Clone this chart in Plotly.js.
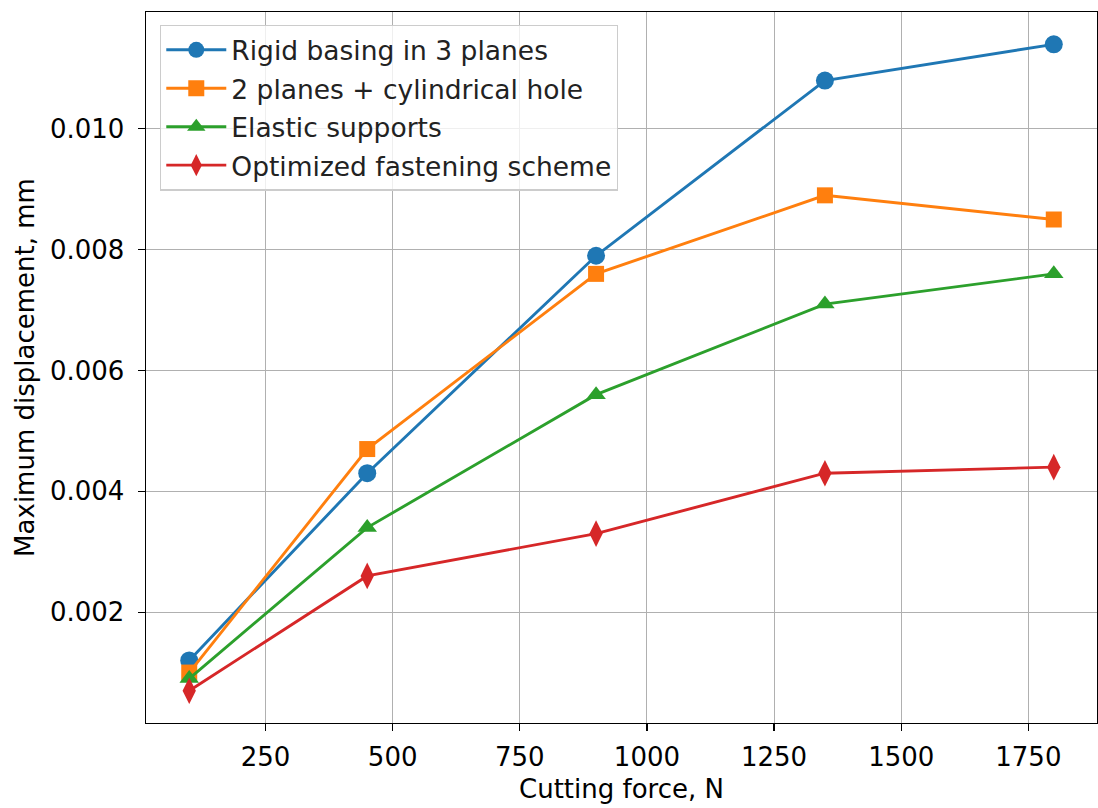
<!DOCTYPE html>
<html>
<head>
<meta charset="utf-8">
<script src="https://cdn.plot.ly/plotly-3.0.1.min.js"></script>
<style>html,body{margin:0;padding:0;background:#fff;}#chart{width:1098px;height:808px;}</style>
</head>
<body>
<div id="chart"></div>
<script>
const forces = [100, 450, 900, 1350, 1800];
const rigid3Planes = [0.0012, 0.0043, 0.0079, 0.0108, 0.0114];
const twoPlanesHole = [0.0010, 0.0047, 0.0076, 0.0089, 0.0085];
const elasticSupports = [0.0009, 0.0034, 0.0056, 0.0071, 0.0076];
const optimizedScheme = [0.0007, 0.0026, 0.0033, 0.0043, 0.0044];
const seriesNames = ["Rigid basing in 3 planes", "2 planes + cylindrical hole", "Elastic supports", "Optimized fastening scheme"];
const xTicks = [250, 500, 750, 1000, 1250, 1500, 1750];
const yTicks = [0.002, 0.004, 0.006, 0.008, 0.010];

const colors = ["#1f77b4", "#ff7f0e", "#2ca02c", "#d62728"];
const symbols = ["circle", "square", "triangle-up", "diamond-tall"];
const sizes = [18, 16, 17, 19];
const ys = [rigid3Planes, twoPlanesHole, elasticSupports, optimizedScheme];

const traces = ys.map((y, i) => ({
  x: forces, y: y, name: seriesNames[i], type: "scatter", mode: "lines+markers",
  legendgroup: "g" + i,
  line: {color: colors[i], width: 2.9},
  marker: {color: colors[i], symbol: symbols[i], size: sizes[i], line: {width: 0}}
}));

const font = {family: "DejaVu Sans, sans-serif", size: 26, color: "#000"};
const layout = {
  width: 1098, height: 808,
  margin: {l: 146, r: 1, t: 12, b: 85, pad: 0},
  paper_bgcolor: "#fff", plot_bgcolor: "#fff",
  font: font,
  showlegend: true,
  xaxis: {
    range: [15, 1885], tickvals: xTicks, ticktext: xTicks.map(String),
    showgrid: true, gridcolor: "#b0b0b0", gridwidth: 1.1,
    zeroline: false, showline: true, linecolor: "#000", linewidth: 1.4, mirror: true,
    ticks: "outside", ticklen: 7, tickwidth: 1.2, tickcolor: "#000",
    tickfont: font, ticklabelstandoff: 3,
    title: {text: "Cutting force, N", font: font, standoff: 9}
  },
  yaxis: {
    range: [0.000165, 0.011935], tickvals: yTicks, ticktext: yTicks.map(v => v.toFixed(3)),
    showgrid: true, gridcolor: "#b0b0b0", gridwidth: 1.1,
    zeroline: false, showline: true, linecolor: "#000", linewidth: 1.4, mirror: true,
    ticks: "outside", ticklen: 7, tickwidth: 1.2, tickcolor: "#000",
    tickfont: font, ticklabelstandoff: 8,
    title: {text: "Maximum displacement, mm", font: font, standoff: 8}
  },
  legend: {
    x: 0.0147, y: 0.982, xanchor: "left", yanchor: "top",
    bgcolor: "rgba(255,255,255,0.8)", bordercolor: "#cccccc", borderwidth: 1.3,
    font: {family: "DejaVu Sans, sans-serif", size: 26.5, color: "#222"},
    traceorder: "grouped", tracegroupgap: 1, itemwidth: 60
  }
};

Plotly.newPlot("chart", traces, layout, {displayModeBar: false, staticPlot: true});
</script>
</body>
</html>
